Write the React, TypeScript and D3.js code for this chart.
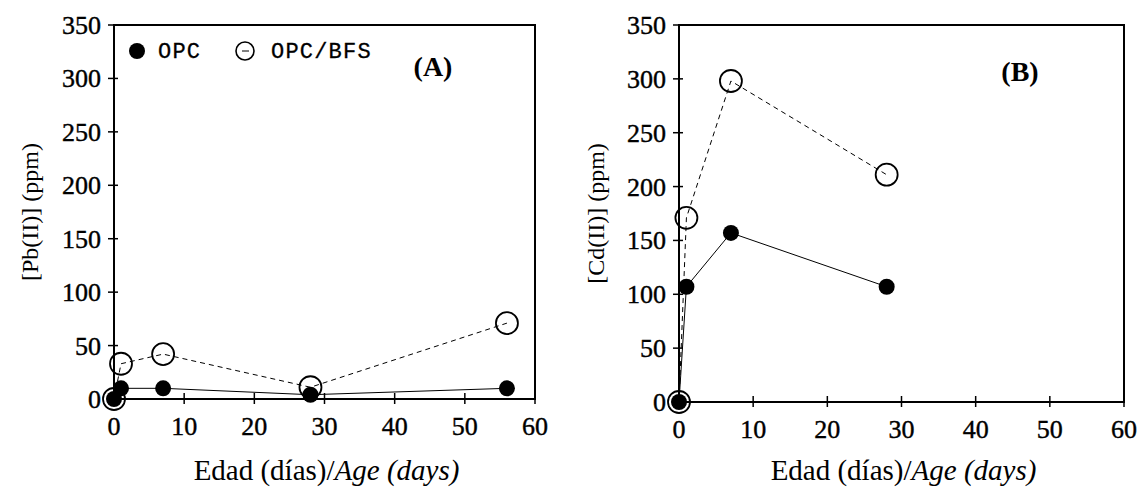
import React, { useEffect, useRef } from 'react';
import * as d3 from 'd3';

// ages (days) and measured concentrations (ppm)
const agesA = [0, 1, 7, 28, 56];
const pbOPC = [0, 10, 10, 4, 10];
const pbBFS = [0, 33, 42, 11, 71];

const agesB = [0, 1, 7, 28];
const cdOPC = [0, 107, 157, 107];
const cdBFS = [0, 171, 298, 211];

const xTicks = [0, 10, 20, 30, 40, 50, 60];
const yTicks = [0, 50, 100, 150, 200, 250, 300, 350];

const serif = '"Liberation Serif", "Times New Roman", serif';
const mono = '"Liberation Mono", monospace';

const panels = [
  {
    key: 'A',
    tag: '(A)',
    ylabel: '[Pb(II)] (ppm)',
    ages: agesA,
    opc: pbOPC,
    bfs: pbBFS,
    box: { l: 114, r: 535, t: 25, b: 399 },
    tagPos: [433, 76],
    ylabelX: 38,
    legend: true
  },
  {
    key: 'B',
    tag: '(B)',
    ylabel: '[Cd(II)] (ppm)',
    ages: agesB,
    opc: cdOPC,
    bfs: cdBFS,
    box: { l: 679, r: 1124, t: 25, b: 402 },
    tagPos: [1020, 81],
    ylabelX: 604,
    legend: false
  }
];

const App = () => {
  const container = useRef(null);

  useEffect(() => {
    document.body.style.margin = '0';
    const svg = d3
      .select(container.current)
      .selectAll('svg')
      .data([0])
      .join('svg')
      .attr('width', 1138)
      .attr('height', 487)
      .style('display', 'block')
      .style('background', '#fff');

    svg.selectAll('*').remove();

    panels.forEach(p => {
      const xScale = d3.scaleLinear().domain([0, 60]).range([p.box.l, p.box.r]);
      const yScale = d3.scaleLinear().domain([0, 350]).range([p.box.b, p.box.t]);
      const g = svg.append('g').attr('class', 'panel-' + p.key);

      // frame
      g.append('rect')
        .attr('x', p.box.l)
        .attr('y', p.box.t)
        .attr('width', p.box.r - p.box.l)
        .attr('height', p.box.b - p.box.t)
        .attr('fill', 'none')
        .attr('stroke', '#000')
        .attr('stroke-width', 2);

      // ticks cross the axis lines
      g.selectAll('.xtick')
        .data(xTicks)
        .join('line')
        .attr('x1', d => xScale(d))
        .attr('x2', d => xScale(d))
        .attr('y1', p.box.b - 6)
        .attr('y2', p.box.b + 5)
        .attr('stroke', '#000')
        .attr('stroke-width', 1.5);
      g.selectAll('.xlab')
        .data(xTicks)
        .join('text')
        .attr('x', d => xScale(d))
        .attr('y', p.box.b + 36)
        .attr('text-anchor', 'middle')
        .style('font-family', serif)
        .style('font-size', '26px')
        .style('stroke', '#000')
        .style('stroke-width', 0.4)
        .text(d => d);

      g.selectAll('.ytick')
        .data(yTicks)
        .join('line')
        .attr('x1', p.box.l - 6)
        .attr('x2', p.box.l + 4)
        .attr('y1', d => yScale(d))
        .attr('y2', d => yScale(d))
        .attr('stroke', '#000')
        .attr('stroke-width', 1.5);
      g.selectAll('.ylab')
        .data(yTicks)
        .join('text')
        .attr('x', p.box.l - 13)
        .attr('y', d => yScale(d) + 9)
        .attr('text-anchor', 'end')
        .style('font-family', serif)
        .style('font-size', '26px')
        .style('stroke', '#000')
        .style('stroke-width', 0.4)
        .text(d => d);

      // axis titles
      const xt = g
        .append('text')
        .attr('x', (p.box.l + p.box.r) / 2 + 2)
        .attr('y', 480)
        .attr('text-anchor', 'middle')
        .style('font-family', serif)
        .style('font-size', '29px');
      xt.append('tspan').text('Edad (días)/');
      xt.append('tspan').style('font-style', 'italic').text('Age (days)');

      g.append('text')
        .attr('transform', `translate(${p.ylabelX},${(p.box.t + p.box.b) / 2})rotate(270)`)
        .attr('text-anchor', 'middle')
        .style('font-family', serif)
        .style('font-size', '24px')
        .text(p.ylabel);

      g.append('text')
        .attr('x', p.tagPos[0])
        .attr('y', p.tagPos[1])
        .attr('text-anchor', 'middle')
        .style('font-family', serif)
        .style('font-size', '28px')
        .style('font-weight', 'bold')
        .text(p.tag);

      const line = d3
        .line()
        .x(d => xScale(d[0]))
        .y(d => yScale(d[1]));

      const opcPts = p.ages.map((a, i) => [a, p.opc[i]]);
      const bfsPts = p.ages.map((a, i) => [a, p.bfs[i]]);

      g.append('path')
        .attr('d', line(bfsPts))
        .attr('fill', 'none')
        .attr('stroke', '#000')
        .attr('stroke-width', 1)
        .attr('stroke-dasharray', '5,4');
      g.append('path')
        .attr('d', line(opcPts))
        .attr('fill', 'none')
        .attr('stroke', '#000')
        .attr('stroke-width', 1);

      g.selectAll('.bfs-pt')
        .data(bfsPts)
        .join('circle')
        .attr('cx', d => xScale(d[0]))
        .attr('cy', d => yScale(d[1]))
        .attr('r', 11)
        .attr('fill', 'none')
        .attr('stroke', '#000')
        .attr('stroke-width', 1.8);
      g.selectAll('.opc-pt')
        .data(opcPts)
        .join('circle')
        .attr('cx', d => xScale(d[0]))
        .attr('cy', d => yScale(d[1]))
        .attr('r', 8)
        .attr('fill', '#000');

      if (p.legend) {
        const lg = g.append('g');
        lg.append('circle').attr('cx', 137).attr('cy', 51).attr('r', 8).attr('fill', '#000');
        lg.append('text')
          .attr('x', 158)
          .attr('y', 58)
          .style('font-family', mono)
          .style('font-size', '22px')
          .style('letter-spacing', '1.2px')
          .style('stroke', '#000')
          .style('stroke-width', 0.3)
          .text('OPC');
        lg.append('circle')
          .attr('cx', 245)
          .attr('cy', 51)
          .attr('r', 9)
          .attr('fill', 'none')
          .attr('stroke', '#000')
          .attr('stroke-width', 1.6);
        lg.append('line')
          .attr('x1', 242)
          .attr('x2', 249)
          .attr('y1', 51)
          .attr('y2', 51)
          .attr('stroke', '#000')
          .attr('stroke-width', 1);
        lg.append('text')
          .attr('x', 271)
          .attr('y', 58)
          .style('font-family', mono)
          .style('font-size', '22px')
          .style('letter-spacing', '1.2px')
          .style('stroke', '#000')
          .style('stroke-width', 0.3)
          .text('OPC/BFS');
      }
    });
  }, []);

  return <div className="chart-container" ref={container}></div>;
};

export default App;
